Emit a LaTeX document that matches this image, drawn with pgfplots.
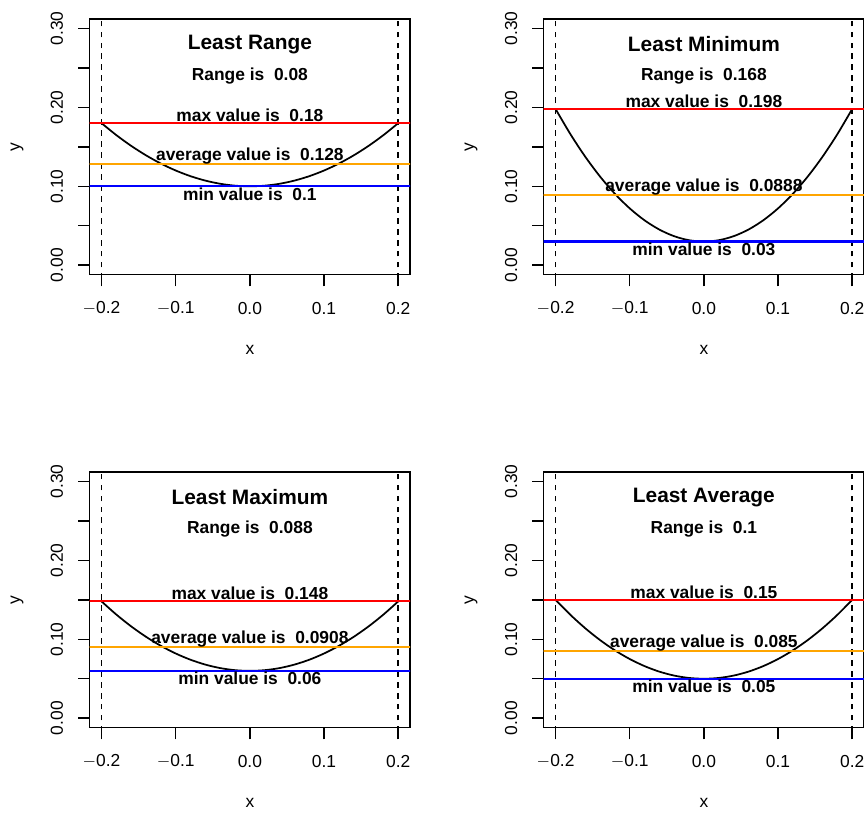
\documentclass[border=0pt]{standalone}
\usepackage{fontspec}
\setmainfont{Liberation Sans}
\usepackage{pgfplots}
\pgfplotsset{compat=1.18}
\definecolor{rorange}{HTML}{FFA500}
\definecolor{rred}{HTML}{FF0000}
\definecolor{rblue}{HTML}{0000FF}

\pgfplotsset{rpanel/.style={
  scale only axis, width=184.2pt, height=147.0pt,
  anchor=north west,
  xmin=-0.216, xmax=0.216, ymin=-0.012, ymax=0.312,
  xtick={-0.2,-0.1,0,0.1,0.2},
  xticklabels={$-$0.2,$-$0.1,0.0,0.1,0.2},
  ytick={0,0.05,0.1,0.15,0.2,0.25,0.3},
  yticklabels={0.00,,0.10,,0.20,,0.30},
  tick align=outside, major tick length=6.7pt,
  xtick pos=bottom, ytick pos=left,
  tick style={black, line width=0.85pt},
  axis line style={line width=0.9pt},
  font=\fontsize{10}{12}\selectfont,
  xticklabel style={anchor=center, yshift=-12.5pt},
  yticklabel style={rotate=90, anchor=center, yshift=12.1pt},
  xlabel={x}, ylabel={y},
  every axis x label/.style={at={(axis description cs:0.5,-0.293)}, anchor=center},
  every axis y label/.style={at={(axis description cs:-0.227,0.5)}, anchor=center, rotate=90},
  clip=true,
}}
\tikzset{ttl/.style={font=\bfseries\fontsize{12}{14}\selectfont},
  lbl/.style={font=\bfseries\fontsize{10}{12}\selectfont},
  rl/.style={line width=1.2pt},
  vd/.style={black, line width=0.9pt, dash pattern=on 3.3pt off 3pt}}

\begin{document}
\begin{tikzpicture}
\useasboundingbox (0,0) rectangle (496.8pt,-466.9pt);
\clip (0,0) rectangle (496.8pt,-466.9pt);

% Least Range
\begin{axis}[rpanel, at={(51.58pt,-10.93pt)}]
\addplot[black, line width=1pt, smooth] coordinates {
(-0.2,0.18)(-0.18,0.1648)(-0.16,0.1512)(-0.14,0.1392)(-0.12,0.1288)(-0.1,0.12)
(-0.08,0.1128)(-0.06,0.1072)(-0.04,0.1032)(-0.02,0.1008)(0,0.1)
(0.02,0.1008)(0.04,0.1032)(0.06,0.1072)(0.08,0.1128)(0.1,0.12)
(0.12,0.1288)(0.14,0.1392)(0.16,0.1512)(0.18,0.1648)(0.2,0.18)};
\addplot[vd] coordinates {(-0.2,-0.1)(-0.2,0.4)};
\addplot[vd] coordinates {(0.2,-0.1)(0.2,0.4)};
\addplot[rred, rl] coordinates {(-0.3,0.18)(0.3,0.18)};
\addplot[rorange, rl] coordinates {(-0.3,0.128)(0.3,0.128)};
\addplot[rblue, rl] coordinates {(-0.3,0.1)(0.3,0.1)};
\node[ttl] at (axis cs:0,0.28) {Least Range};
\node[lbl] at (axis cs:0,0.24) {Range is\ \ 0.08};
\node[lbl] at (axis cs:0,0.19) {max value is\ \ 0.18};
\node[lbl] at (axis cs:0,0.138) {average value is\ \ 0.128};
\node[lbl] at (axis cs:0,0.09) {min value is\ \ 0.1};
\end{axis}

% Least Minimum
\begin{axis}[rpanel, at={(312.63pt,-10.93pt)}]
\addplot[black, line width=1pt, smooth] coordinates {
(-0.2,0.198)(-0.18,0.16608)(-0.16,0.13752)(-0.14,0.11232)(-0.12,0.09048)(-0.1,0.072)
(-0.08,0.05688)(-0.06,0.04512)(-0.04,0.03672)(-0.02,0.03168)(0,0.03)
(0.02,0.03168)(0.04,0.03672)(0.06,0.04512)(0.08,0.05688)(0.1,0.072)
(0.12,0.09048)(0.14,0.11232)(0.16,0.13752)(0.18,0.16608)(0.2,0.198)};
\addplot[vd] coordinates {(-0.2,-0.1)(-0.2,0.4)};
\addplot[vd] coordinates {(0.2,-0.1)(0.2,0.4)};
\addplot[rred, rl] coordinates {(-0.3,0.198)(0.3,0.198)};
\addplot[rorange, rl] coordinates {(-0.3,0.0888)(0.3,0.0888)};
\addplot[rblue, rl] coordinates {(-0.3,0.03)(0.3,0.03)};
\node[ttl] at (axis cs:0,0.28) {Least Minimum};
\node[lbl] at (axis cs:0,0.24) {Range is\ \ 0.168};
\node[lbl] at (axis cs:0,0.208) {max value is\ \ 0.198};
\node[lbl] at (axis cs:0,0.0988) {average value is\ \ 0.0888};
\node[lbl] at (axis cs:0,0.02) {min value is\ \ 0.03};
\end{axis}

% Least Maximum
\begin{axis}[rpanel, at={(51.58pt,-271.4pt)}]
\addplot[black, line width=1pt, smooth] coordinates {
(-0.2,0.148)(-0.18,0.13128)(-0.16,0.11632)(-0.14,0.10312)(-0.12,0.09168)(-0.1,0.082)
(-0.08,0.07408)(-0.06,0.06792)(-0.04,0.06352)(-0.02,0.06088)(0,0.06)
(0.02,0.06088)(0.04,0.06352)(0.06,0.06792)(0.08,0.07408)(0.1,0.082)
(0.12,0.09168)(0.14,0.10312)(0.16,0.11632)(0.18,0.13128)(0.2,0.148)};
\addplot[vd] coordinates {(-0.2,-0.1)(-0.2,0.4)};
\addplot[vd] coordinates {(0.2,-0.1)(0.2,0.4)};
\addplot[rred, rl] coordinates {(-0.3,0.148)(0.3,0.148)};
\addplot[rorange, rl] coordinates {(-0.3,0.0908)(0.3,0.0908)};
\addplot[rblue, rl] coordinates {(-0.3,0.06)(0.3,0.06)};
\node[ttl] at (axis cs:0,0.28) {Least Maximum};
\node[lbl] at (axis cs:0,0.24) {Range is\ \ 0.088};
\node[lbl] at (axis cs:0,0.158) {max value is\ \ 0.148};
\node[lbl] at (axis cs:0,0.1008) {average value is\ \ 0.0908};
\node[lbl] at (axis cs:0,0.05) {min value is\ \ 0.06};
\end{axis}

% Least Average
\begin{axis}[rpanel, at={(312.63pt,-271.4pt)}]
\addplot[black, line width=1pt, smooth] coordinates {
(-0.2,0.15)(-0.18,0.131)(-0.16,0.114)(-0.14,0.099)(-0.12,0.086)(-0.1,0.075)
(-0.08,0.066)(-0.06,0.059)(-0.04,0.054)(-0.02,0.051)(0,0.05)
(0.02,0.051)(0.04,0.054)(0.06,0.059)(0.08,0.066)(0.1,0.075)
(0.12,0.086)(0.14,0.099)(0.16,0.114)(0.18,0.131)(0.2,0.15)};
\addplot[vd] coordinates {(-0.2,-0.1)(-0.2,0.4)};
\addplot[vd] coordinates {(0.2,-0.1)(0.2,0.4)};
\addplot[rred, rl] coordinates {(-0.3,0.15)(0.3,0.15)};
\addplot[rorange, rl] coordinates {(-0.3,0.085)(0.3,0.085)};
\addplot[rblue, rl] coordinates {(-0.3,0.05)(0.3,0.05)};
\node[ttl] at (axis cs:0,0.28) {Least Average};
\node[lbl] at (axis cs:0,0.24) {Range is\ \ 0.1};
\node[lbl] at (axis cs:0,0.16) {max value is\ \ 0.15};
\node[lbl] at (axis cs:0,0.095) {average value is\ \ 0.085};
\node[lbl] at (axis cs:0,0.04) {min value is\ \ 0.05};
\end{axis}
\end{tikzpicture}
\end{document}
